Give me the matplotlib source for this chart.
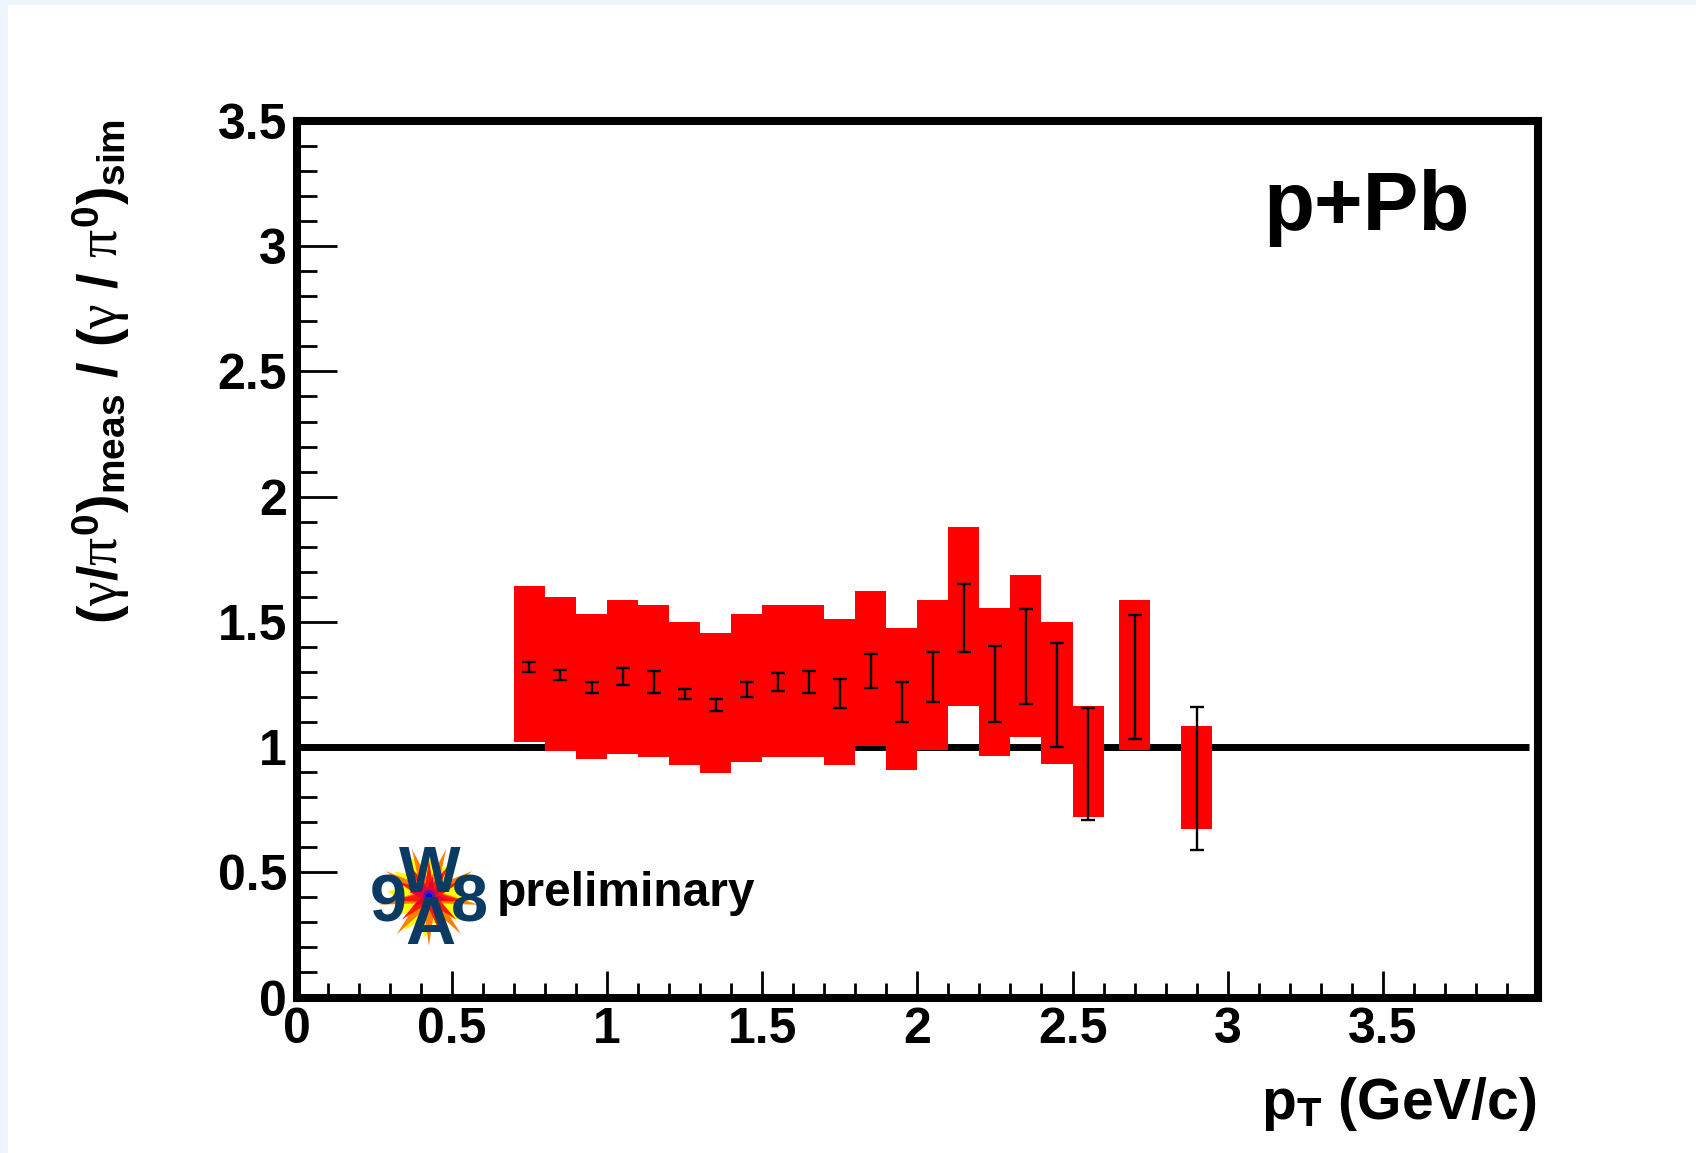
import numpy as np
import matplotlib
matplotlib.use('Agg')
import matplotlib.pyplot as plt
from matplotlib.patches import Rectangle, Polygon, Circle
from matplotlib.ticker import FixedLocator, MultipleLocator

# gamma/pi0 double ratio, p+Pb
pt = [0.75, 0.85, 0.95, 1.05, 1.15, 1.25, 1.35, 1.45, 1.55, 1.65, 1.75,
      1.85, 1.95, 2.05, 2.15, 2.25, 2.35, 2.45, 2.55, 2.70, 2.90]
ratio = [1.320, 1.288, 1.237, 1.282, 1.259, 1.210, 1.168, 1.230, 1.259, 1.259, 1.213,
         1.304, 1.180, 1.281, 1.515, 1.253, 1.360, 1.208, 0.934, 1.280, 0.874]
stat_err = [0.020, 0.020, 0.023, 0.035, 0.045, 0.020, 0.023, 0.030, 0.035, 0.045, 0.058,
            0.069, 0.078, 0.100, 0.135, 0.151, 0.190, 0.207, 0.224, 0.247, 0.285]
# systematic band (box bottom / top)
sys_lo = [1.020, 0.985, 0.952, 0.972, 0.961, 0.929, 0.896, 0.939, 0.961, 0.961, 0.929,
          1.004, 0.908, 0.988, 1.165, 0.963, 1.041, 0.932, 0.719, 0.988, 0.673]
sys_hi = [1.643, 1.599, 1.530, 1.587, 1.566, 1.498, 1.454, 1.530, 1.566, 1.566, 1.510,
          1.623, 1.477, 1.587, 1.879, 1.556, 1.689, 1.498, 1.165, 1.587, 1.085]
bin_width = 0.1

x_ticks = [0, 0.5, 1, 1.5, 2, 2.5, 3, 3.5]
x_labels = ['0', '0.5', '1', '1.5', '2', '2.5', '3', '3.5']
y_ticks = [0, 0.5, 1, 1.5, 2, 2.5, 3, 3.5]
y_labels = ['0', '0.5', '1', '1.5', '2', '2.5', '3', '3.5']

plt.rcParams['font.family'] = ['Liberation Sans', 'DejaVu Sans']
plt.rcParams['font.weight'] = 'bold'
plt.rcParams['mathtext.fontset'] = 'custom'
plt.rcParams['mathtext.rm'] = 'Liberation Sans:bold'
plt.rcParams['mathtext.it'] = 'Liberation Serif:weight=normal'   # greek letters
plt.rcParams['mathtext.bf'] = 'Liberation Sans:bold'
plt.rcParams['mathtext.sf'] = 'Liberation Sans:bold'

W, H = 1696, 1153
fig = plt.figure(figsize=(W / 100, H / 100), dpi=100)
fig.patch.set_facecolor('white')

ax = fig.add_axes([296.7 / W, 1 - 997.5 / H, (1538 - 296.7) / W, (997.5 - 121) / H])
ax.set_xlim(0, 4)
ax.set_ylim(0, 3.5)

# reference line at 1
ax.hlines(1.0, 0, 3.97, color='black', lw=5, zorder=1)

lo = np.array(sys_lo)
hi = np.array(sys_hi)
ax.bar(pt, hi - lo, bottom=lo, width=bin_width, color='#ff0000', linewidth=0, zorder=2)
ax.errorbar(pt, ratio, yerr=stat_err, fmt='none', ecolor='black', elinewidth=1.7,
            capsize=5, capthick=1.7, zorder=3)

ax.xaxis.set_major_locator(FixedLocator(x_ticks))
ax.set_xticklabels(x_labels)
ax.xaxis.set_minor_locator(FixedLocator(np.round(np.arange(0.1, 4.0, 0.1), 2)))
ax.yaxis.set_major_locator(FixedLocator(y_ticks))
ax.set_yticklabels(y_labels)
ax.yaxis.set_minor_locator(MultipleLocator(0.1))

ax.tick_params(which='both', direction='in', top=False, right=False, width=2, color='black')
ax.tick_params(axis='y', which='major', length=28.8, pad=7, labelsize=36)
ax.tick_params(axis='y', which='minor', length=14.4)
ax.tick_params(axis='x', which='major', length=19.3, pad=7, labelsize=36)
ax.tick_params(axis='x', which='minor', length=11)
for s in ax.spines.values():
    s.set_linewidth(5.8)
    s.set_color('black')

ax.text(0.779, 0.876, 'p+Pb', transform=ax.transAxes, fontsize=60,
        fontweight='bold', va='baseline', ha='left')
ax.text(0.1610, 0.1044, 'preliminary', transform=ax.transAxes, fontsize=34.5,
        fontweight='bold', va='baseline', ha='left')

fig.text(1536 / W, 1 - 1119 / H, r'p$_{\mathrm{T}}$ (GeV/c)', fontsize=41,
         ha='right', va='baseline')
fig.text(101 / W, 1 - 119 / H,
         r'$(\gamma/\pi^{0})_{\mathrm{meas}}$ / $(\gamma$ / $\pi^{0})_{\mathrm{sim}}$',
         fontsize=40, rotation=90, ha='center', va='top')

# overlay in pixel coords: page border + logo
ov = fig.add_axes([0, 0, 1, 1], zorder=10)
ov.set_xlim(0, W)
ov.set_ylim(H, 0)
ov.axis('off')
ov.patch.set_alpha(0)

ov.add_patch(Rectangle((0, 0), W, 5, color='#eef5fd', lw=0))
ov.add_patch(Rectangle((0, 0), 8, H, color='#eef5fd', lw=0))


def star(cx, cy, n, r1, r2, rot=0.0):
    ang = np.linspace(0, 2 * np.pi, 2 * n, endpoint=False) + rot
    r = np.where(np.arange(2 * n) % 2 == 0, r1, r2)
    return np.column_stack([cx + r * np.sin(ang), cy - r * np.cos(ang)])


cx, cy = 429, 896
ov.add_patch(Polygon(star(cx, cy, 12, 42, 27, 0.1), color='#ffff00', lw=0))
ov.add_patch(Polygon(star(cx, cy, 9, 50, 15, 0.35), color='#ff7f00', lw=0))
ov.add_patch(Polygon(star(cx, cy, 11, 36, 13, 0.0), color='#ff1a00', lw=0))
ov.add_patch(Polygon(star(cx, cy, 8, 20, 8, 0.2), color='#e0003a', lw=0))
ov.add_patch(Circle((cx, cy), 6, color='#5a1aa0', lw=0))
ov.add_patch(Circle((cx, cy), 3, color='#0000ff', lw=0))

navy = '#0b3a62'
ov.text(430, 892, 'W', fontsize=47, color=navy, ha='center', va='baseline', fontweight='bold')
ov.text(430.5, 944, 'A', fontsize=50, color=navy, ha='center', va='baseline', fontweight='bold')
ov.text(388, 922, '9', fontsize=48, color=navy, ha='center', va='baseline', fontweight='bold')
ov.text(469, 922, '8', fontsize=48, color=navy, ha='center', va='baseline', fontweight='bold')

fig.savefig('out.png', dpi=100)
